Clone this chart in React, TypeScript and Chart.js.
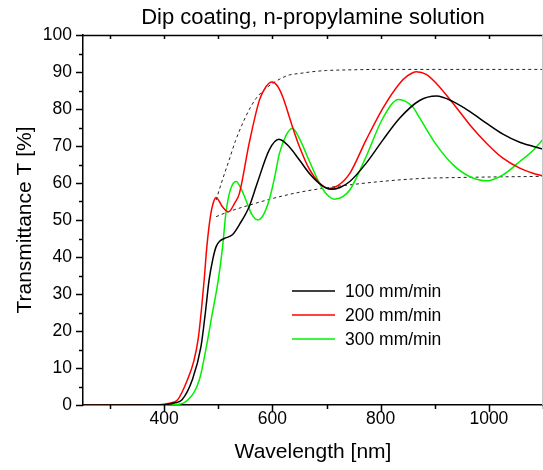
import React, { useEffect, useRef } from "react";
import { Chart, registerables } from "chart.js";

Chart.register(...registerables);

const FONT = "'Liberation Sans', Arial, Helvetica, sans-serif";

const chartTitle = "Dip coating, n-propylamine solution";
const xTitle = "Wavelength [nm]";
const yTitle = "Transmittance T [%]";
const xMajorTicks = [400, 600, 800, 1000];
const yTickStep = 10;

const seriesLabels = ["100 mm/min", "200 mm/min", "300 mm/min"];
const seriesColors = ["#000000", "#ff0000", "#00f000"];

const wl100 = [250, 400, 420, 433, 452, 468, 476, 483, 490, 496, 503, 511, 526, 540, 557, 572, 594, 612, 631, 650, 670, 690, 708, 725, 743, 773, 804, 835, 872, 903, 934, 965, 996, 1026, 1057, 1100];
const t100 = [0, 0.1, 0.6, 1.4, 6.8, 15.8, 24.8, 33.8, 39.5, 42.8, 44.3, 45, 46, 49, 53.6, 60, 68.9, 71.8, 69.8, 66.2, 62.3, 59.5, 58.3, 58.8, 60.4, 65.3, 71.6, 77.5, 82.3, 83.5, 82, 79.3, 76.1, 73.2, 71, 69.2];

const wl200 = [250, 390, 410, 425, 443, 455, 463, 469, 474, 479, 486, 491, 496, 502, 508, 519, 530, 539, 557, 576, 588, 599, 609, 619, 637, 650, 668, 687, 705, 720, 743, 773, 804, 835, 850, 866, 885, 903, 934, 965, 996, 1026, 1057, 1080, 1100];
const t200 = [0, 0.1, 0.5, 1.4, 6.8, 12, 18, 26, 34, 43, 51.5, 54.8, 56.1, 55, 53.5, 52.2, 54.5, 57.2, 70.7, 82.4, 86, 87.3, 86.3, 83.3, 75.2, 69.8, 63.8, 60, 58.5, 59.2, 62.6, 71.6, 80.2, 86.9, 89, 90.1, 89.3, 86.9, 81.5, 75.7, 70.7, 66.7, 64, 62.7, 61.9];

const wl300 = [250, 420, 444, 465, 478, 489, 500, 508, 514, 522, 533, 542, 551, 562, 573, 583, 594, 604, 613, 625, 637, 650, 668, 687, 700, 715, 730, 743, 773, 804, 833, 859, 872, 903, 934, 965, 996, 1026, 1057, 1080, 1100];
const t300 = [0, 0.1, 1.4, 6.8, 15.8, 24.8, 33.8, 42.8, 51.8, 58, 60.4, 58.5, 55.4, 51.5, 50, 51.3, 55.4, 61.5, 68, 72.8, 74.8, 72, 66, 59.9, 57, 55.6, 56.3, 58.1, 67.1, 77.5, 82.6, 80.6, 77.6, 70.3, 64.9, 61.7, 60.6, 62.2, 65.8, 68.6, 71.8];

const wlUpper = [496, 508, 520, 532, 545, 557, 570, 585, 600, 615, 631, 650, 675, 700, 750, 800, 900, 1100];
const tUpper = [55.4, 61, 66.2, 71.5, 76.1, 79.8, 82.9, 85.2, 86.9, 88.2, 89.2, 89.6, 90.1, 90.4, 90.6, 90.7, 90.7, 90.7];

const wlLower = [496, 520, 557, 600, 650, 700, 743, 800, 872, 950, 1100];
const tLower = [50.9, 52.3, 54, 55.8, 57.5, 58.7, 59.5, 60.4, 61.2, 61.5, 61.8];

const toPoints = (xs: number[], ys: number[]) => xs.map((x, i) => ({ x, y: ys[i] }));

const decorPlugin = {
  id: "decor",
  afterDraw(chart: any) {
    const { ctx, chartArea: a, scales } = chart;
    const x = scales.x;
    const y = scales.y;
    ctx.save();
    ctx.strokeStyle = "#000";
    ctx.lineWidth = 1.5;
    ctx.beginPath();
    for (let v = 0; v <= 100; v += yTickStep / 2) {
      const py = Math.round(y.getPixelForValue(v)) + 0.5;
      const len = v % yTickStep === 0 ? 7 : 4;
      ctx.moveTo(a.left, py);
      ctx.lineTo(a.left - len, py);
    }
    for (let v = 300; v <= 1100; v += 100) {
      const px = Math.round(x.getPixelForValue(v)) + 0.5;
      const len = xMajorTicks.includes(v) ? 7 : 4;
      ctx.moveTo(px, a.bottom);
      ctx.lineTo(px, a.bottom + len);
      ctx.moveTo(px, a.top);
      ctx.lineTo(px, a.top + 4);
    }
    ctx.moveTo(a.left - 0.75, a.top + 0.5);
    ctx.lineTo(a.right, a.top + 0.5);
    ctx.stroke();

    ctx.strokeStyle = "#c8c8c8";
    ctx.lineWidth = 1;
    ctx.beginPath();
    ctx.moveTo(a.right - 0.5, a.top);
    ctx.lineTo(a.right - 0.5, a.bottom);
    ctx.stroke();

    // title
    ctx.fillStyle = "#000";
    ctx.font = `22px ${FONT}`;
    ctx.textAlign = "center";
    ctx.textBaseline = "middle";
    ctx.fillText(chartTitle, (a.left + a.right) / 2, 18);

    // legend
    ctx.font = `17.5px ${FONT}`;
    ctx.textAlign = "left";
    seriesLabels.forEach((label, i) => {
      const ly = 291 + i * 24;
      ctx.strokeStyle = seriesColors[i];
      ctx.lineWidth = 1.5;
      ctx.beginPath();
      ctx.moveTo(292, ly);
      ctx.lineTo(335, ly);
      ctx.stroke();
      ctx.fillStyle = "#000";
      ctx.fillText(label, 345, ly + 1);
    });
    ctx.restore();
  },
};

export default function App() {
  const ref = useRef<HTMLCanvasElement | null>(null);

  useEffect(() => {
    if (!ref.current) return;
    const series = [
      { xs: wl100, ys: t100 },
      { xs: wl200, ys: t200 },
      { xs: wl300, ys: t300 },
    ];
    const datasets: any[] = [];
    series.forEach((s, i) => {
      datasets.push({
        label: seriesLabels[i],
        data: toPoints(s.xs, s.ys),
        borderColor: seriesColors[i],
        borderWidth: 1.5,
        pointRadius: 0,
        fill: false,
        cubicInterpolationMode: "monotone",
      });
    });
    [
      { xs: wlUpper, ys: tUpper },
      { xs: wlLower, ys: tLower },
    ].forEach((s) => {
      datasets.push({
        label: "",
        data: toPoints(s.xs, s.ys),
        borderColor: "#222",
        borderWidth: 1,
        borderDash: [3, 3],
        pointRadius: 0,
        fill: false,
        cubicInterpolationMode: "monotone",
      });
    });

    const chart = new Chart(ref.current, {
      type: "line",
      data: { datasets },
      options: {
        animation: false,
        responsive: false,
        devicePixelRatio: 1,
        layout: { padding: { top: 35, left: 0, right: 0, bottom: 0 } },
        plugins: {
          legend: { display: false },
          tooltip: { enabled: false },
          title: { display: false },
        },
        scales: {
          x: {
            type: "linear",
            min: 250,
            max: 1100,
            afterFit: (s: any) => {
              s.height = 65;
            },
            ticks: {
              stepSize: 100,
              autoSkip: false,
              maxRotation: 0,
              padding: 0,
              color: "#000",
              font: { family: FONT, size: 17.5 },
              callback: (v: any) => (xMajorTicks.includes(Number(v)) ? String(v) : ""),
            },
            grid: { drawOnChartArea: false, drawTicks: true, tickLength: 4, color: "rgba(0,0,0,0)" },
            border: { display: true, color: "#000", width: 1.5 },
            title: {
              display: true,
              text: xTitle,
              color: "#000",
              font: { family: FONT, size: 21 },
              padding: { top: 0, bottom: 5 },
            },
          },
          y: {
            type: "linear",
            min: 0,
            max: 100,
            afterFit: (s: any) => {
              s.width = 83;
            },
            ticks: {
              stepSize: yTickStep,
              padding: 4,
              color: "#000",
              font: { family: FONT, size: 17.5 },
            },
            grid: { drawOnChartArea: false, drawTicks: true, tickLength: 7, color: "rgba(0,0,0,0)" },
            border: { display: true, color: "#000", width: 1.5 },
            title: {
              display: true,
              text: yTitle,
              color: "#000",
              font: { family: FONT, size: 21 },
              padding: { top: 13, bottom: 0 },
            },
          },
        },
      },
      plugins: [decorPlugin],
    });
    return () => chart.destroy();
  }, []);

  return (
    <div style={{ position: "fixed", left: 0, top: 0, width: 543, height: 470, background: "#fff" }}>
      <canvas ref={ref} width={543} height={470} style={{ display: "block" }} />
    </div>
  );
}
